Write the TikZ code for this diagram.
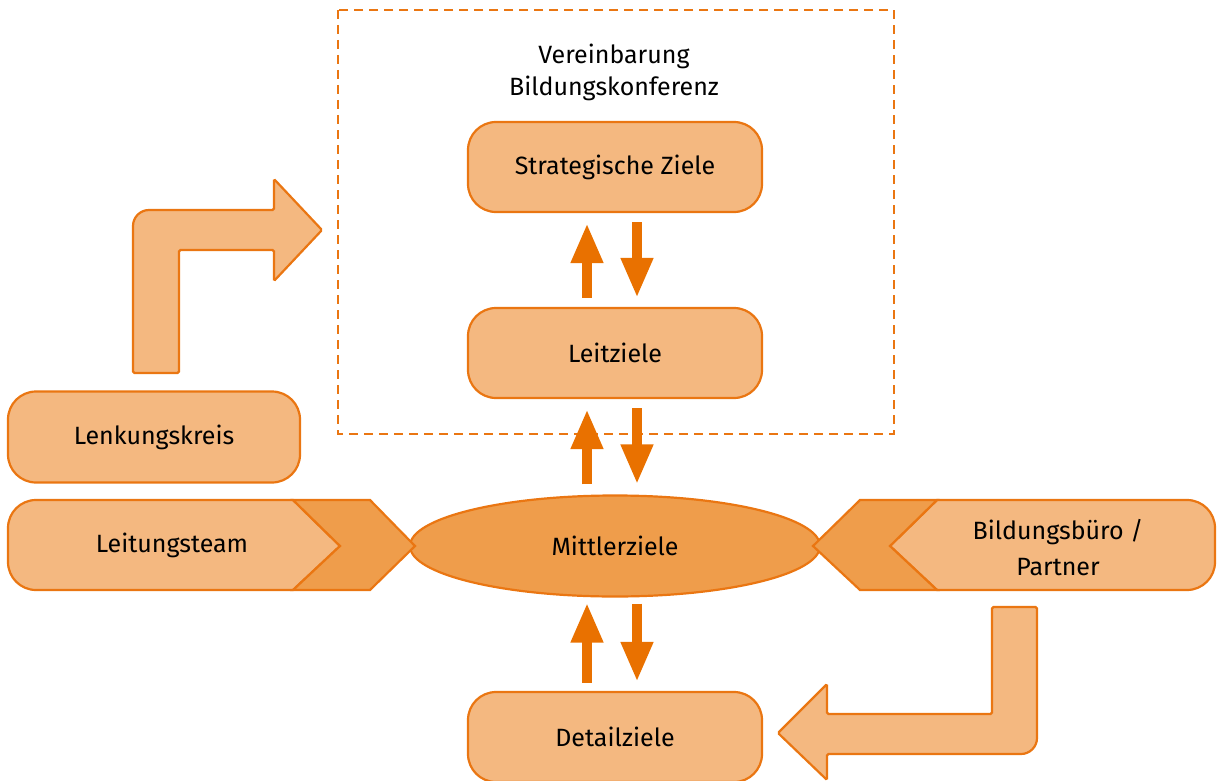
\documentclass[tikz,border=0pt]{standalone}
\usepackage{fontspec}
\setmainfont{Fira Sans}
\usetikzlibrary{shapes.geometric,arrows.meta}
\definecolor{lightor}{HTML}{F4B880}
\definecolor{darkor}{HTML}{EF9D4B}
\definecolor{strokeor}{HTML}{EA7612}
\definecolor{arrowor}{HTML}{E97100}
\tikzset{
  box/.style={draw=strokeor, fill=lightor, line width=2.2pt, rounded corners=28pt, minimum width=294pt, minimum height=90pt, inner sep=0pt, font=\fontsize{25}{32}\selectfont},
  label/.style={inner sep=0pt, align=center, font=\fontsize{25}{32}\selectfont},
  lightshape/.style={draw=strokeor, fill=lightor, line width=2.2pt, line join=miter},
  darkshape/.style={draw=strokeor, fill=darkor, line width=2.2pt, line join=miter},
  fatarrow/.style={draw=arrowor, line width=10pt, -{Triangle[length=40pt, width=30pt]}},
}
\begin{document}
\begin{tikzpicture}[x=1pt, y=-1pt]
\useasboundingbox (0,0) rectangle (1217,781);
% dashed frame
\draw[strokeor, line width=2.2pt, dash pattern=on 9pt off 6pt] (338,10) rectangle (894,434);
\node[label] (verein) at (614,72) {Vereinbarung\\Bildungskonferenz};
% boxes
\node[box] (S) at (615,167) {Strategische Ziele};
\node[box] (L) at (615,353) {Leitziele};
\node[box, minimum width=292pt, minimum height=91pt] (K) at (154,437) {Lenkungskreis};
\node[box] (D) at (615,737) {Detailziele};
% ellipse
\node[ellipse, draw=strokeor, fill=darkor, line width=2.2pt, minimum width=410pt, minimum height=101pt, inner sep=0pt, font=\fontsize{25}{32}\selectfont] (M) at (615,546) {Mittlerziele};
% left chevron shape
\draw[lightshape] (150,500) [rounded corners=28pt] -- (8,500) -- (8,590) -- (150,590) [sharp corners] -- (293,590) -- (340,546) -- (293,500) -- cycle;
\draw[darkshape] (293,500) -- (370,500) -- (415,546) -- (370,590) -- (293,590) -- (340,546) -- cycle;
\node[label] (T) at (172,545) {Leitungsteam};
% right chevron shape
\draw[lightshape] (1100,500) [rounded corners=28pt] -- (1215,500) -- (1215,590) -- (1100,590) [sharp corners] -- (937,590) -- (890,546) -- (937,500) -- cycle;
\draw[darkshape] (860,500) -- (937,500) -- (890,546) -- (937,590) -- (860,590) -- (813,546) -- cycle;
\node[label, font=\fontsize{25}{36}\selectfont] (B) at (1058,548) {Bildungsbüro /\\Partner};
% bent arrows
\draw[lightshape] (133,300) [rounded corners=16pt] -- (133,210) -- (220,210) [rounded corners=1.5pt] -- (274,210) -- (274,179) -- (322,230) -- (274,281) -- (274,250) -- (179,250) -- (179,373) -- (133,373) -- cycle;
\draw[lightshape] (1037,680) [rounded corners=16pt] -- (1037,754) -- (950,754) [rounded corners=1.5pt] -- (827,754) -- (827,780) -- (778,733) -- (827,684) -- (827,714) -- (992,714) -- (992,607) -- (1037,607) -- cycle;
% vertical arrows
\draw[fatarrow] ([xshift=-28pt,yshift=9pt]L.north) -- ([xshift=-28pt,yshift=-10pt]S.south);
\draw[fatarrow] ([xshift=22pt,yshift=-9pt]S.south) -- ([xshift=22pt,yshift=9pt]L.north);
\draw[fatarrow] ([xshift=-28pt,yshift=10pt]M.north) -- ([xshift=-28pt,yshift=-10pt]L.south);
\draw[fatarrow] ([xshift=22pt,yshift=-9pt]L.south) -- ([xshift=22pt,yshift=10pt]M.north);
\draw[fatarrow] ([xshift=-28pt,yshift=8pt]D.north) -- ([xshift=-28pt,yshift=-5pt]M.south);
\draw[fatarrow] ([xshift=22pt,yshift=-6pt]M.south) -- ([xshift=22pt,yshift=9pt]D.north);
\end{tikzpicture}
\end{document}
